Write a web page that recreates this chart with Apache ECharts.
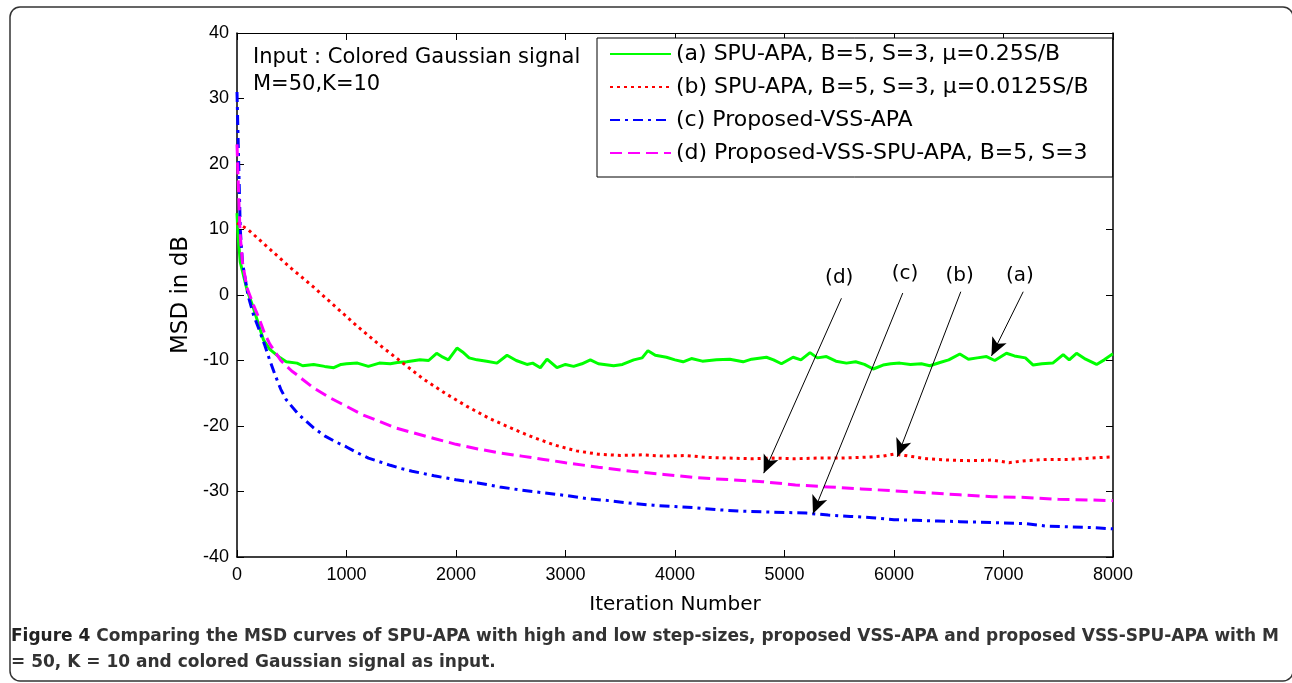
<!DOCTYPE html>
<html>
<head>
<meta charset="utf-8">
<script src="https://cdn.jsdelivr.net/npm/echarts@6/dist/echarts.min.js"></script>
<style>
  html, body { margin: 0; padding: 0; background: #fff; }
  #chart { width: 1292px; height: 683px; }
</style>
</head>
<body>
<div id="chart"></div>
<script>
// (a) SPU-APA, mu = 0.25S/B
const aIter = [0, 10, 30, 91, 150, 243, 300, 395, 450, 548, 600, 700, 800, 884, 950, 1000, 1100, 1200, 1300, 1400, 1465, 1550, 1671, 1750, 1823, 1880, 1930, 2009, 2060, 2120, 2192, 2280, 2374, 2466, 2550, 2648, 2700, 2770, 2831, 2922, 3000, 3074, 3150, 3227, 3300, 3440, 3520, 3623, 3700, 3753, 3820, 3922, 4000, 4074, 4150, 4250, 4378, 4500, 4622, 4700, 4835, 4900, 4972, 5078, 5150, 5233, 5300, 5383, 5470, 5566, 5650, 5730, 5810, 5900, 5970, 6053, 6150, 6250, 6327, 6420, 6500, 6601, 6680, 6760, 6845, 6920, 7027, 7100, 7200, 7271, 7350, 7450, 7545, 7600, 7667, 7750, 7850, 7920, 7987, 8000];
const aMsd = [12.5, 9, 5, 0.8, -2, -6.9, -8.3, -9.6, -10.2, -10.4, -10.8, -10.6, -10.9, -11.1, -10.6, -10.5, -10.4, -10.9, -10.4, -10.5, -10.3, -10.2, -9.9, -10.0, -8.9, -9.5, -9.9, -8.1, -8.7, -9.6, -9.9, -10.1, -10.4, -9.2, -10.0, -10.6, -10.4, -11.1, -9.8, -11.1, -10.6, -10.9, -10.5, -9.9, -10.5, -10.8, -10.6, -9.9, -9.6, -8.5, -9.2, -9.5, -9.9, -10.2, -9.7, -10.1, -9.9, -9.8, -10.2, -9.8, -9.5, -9.9, -10.5, -9.5, -9.9, -8.8, -9.6, -9.4, -10.1, -10.4, -10.2, -10.6, -11.3, -10.7, -10.5, -10.4, -10.6, -10.5, -10.8, -10.3, -9.9, -9.0, -9.8, -9.6, -9.4, -10.0, -8.9, -9.3, -9.6, -10.7, -10.5, -10.4, -9.1, -9.9, -8.9, -9.8, -10.6, -9.9, -9.1, -9.0];

// (b) SPU-APA, mu = 0.0125S/B
const bIter = [0, 100, 300, 500, 700, 900, 1100, 1300, 1500, 1700, 1900, 2100, 2300, 2500, 2700, 2900, 3100, 3300, 3500, 3700, 3900, 4100, 4300, 4500, 4700, 4900, 5100, 5300, 5500, 5700, 5900, 6000, 6100, 6300, 6500, 6700, 6900, 7050, 7200, 7400, 7600, 7800, 8000];
const bMsd = [11, 10, 7, 4, 1.2, -1.8, -4.8, -7.6, -10.2, -12.8, -15, -17, -18.8, -20.3, -21.7, -22.9, -23.8, -24.3, -24.5, -24.4, -24.6, -24.5, -24.8, -24.9, -25.0, -24.9, -25.0, -24.9, -24.9, -24.8, -24.6, -24.3, -24.5, -25.0, -25.2, -25.3, -25.2, -25.6, -25.3, -25.1, -25.1, -24.9, -24.7];

// (c) Proposed-VSS-APA
const cIter = [0, 10, 20, 30, 50, 100, 150, 200, 250, 300, 350, 400, 450, 500, 550, 600, 700, 800, 900, 1000, 1100, 1200, 1400, 1500, 1600, 1800, 2000, 2200, 2400, 2600, 2800, 3000, 3200, 3400, 3600, 3800, 4000, 4200, 4400, 4600, 4800, 5000, 5200, 5400, 5600, 5800, 6000, 6200, 6400, 6600, 6800, 7000, 7200, 7400, 7600, 7800, 8000];
const cMsd = [31, 24, 17, 10, 5, 0, -3, -5.2, -7.5, -10, -12.3, -14.4, -16, -17, -18, -18.8, -20.3, -21.5, -22.4, -23.2, -24.1, -24.9, -26.0, -26.5, -26.9, -27.6, -28.2, -28.7, -29.3, -29.8, -30.2, -30.6, -31.1, -31.4, -31.8, -32.1, -32.3, -32.5, -32.8, -33.0, -33.1, -33.2, -33.3, -33.6, -33.8, -34.0, -34.3, -34.4, -34.5, -34.6, -34.7, -34.8, -34.9, -35.3, -35.4, -35.5, -35.7];

// (d) Proposed-VSS-SPU-APA
const dIter = [0, 10, 20, 30, 50, 91, 150, 200, 250, 300, 400, 500, 550, 600, 700, 850, 1000, 1150, 1300, 1450, 1600, 1800, 2000, 2200, 2400, 2600, 2800, 3000, 3300, 3600, 3900, 4200, 4500, 4800, 5100, 5400, 5700, 6000, 6300, 6600, 6900, 7200, 7500, 7800, 8000];
const dMsd = [23, 18, 13, 9, 5, 1.1, -1.5, -3.5, -5.8, -7.5, -10, -11.6, -12.2, -12.9, -14.2, -15.7, -17, -18.3, -19.3, -20.3, -21, -21.9, -22.8, -23.5, -24.1, -24.6, -25.1, -25.6, -26.3, -26.9, -27.4, -27.9, -28.2, -28.5, -29.0, -29.3, -29.6, -29.9, -30.2, -30.5, -30.8, -30.9, -31.2, -31.3, -31.4];

const seriesNames = [
  '(a) SPU-APA, B=5, S=3, \u03bc=0.25S/B',
  '(b) SPU-APA, B=5, S=3, \u03bc=0.0125S/B',
  '(c) Proposed-VSS-APA',
  '(d) Proposed-VSS-SPU-APA, B=5, S=3'
];

// annotation labels and arrows (data coordinates)
const arrowLabels = ['(a)', '(b)', '(c)', '(d)'];
const arrowText = [[7150, 3.0], [6600, 3.0], [6100, 3.3], [5500, 2.7]];
const arrowFrom = [[7180, 0.5], [6610, 0.5], [6080, 0.3], [5520, -0.5]];
const arrowTo = [[6890, -9.3], [6030, -24.7], [5260, -33.4], [4810, -27.2]];

const zip = (xs, ys) => xs.map((x, i) => [x, ys[i]]);

const chart = echarts.init(document.getElementById('chart'));

const tickFont = { color: '#000', fontSize: 18, fontFamily: 'Liberation Sans, Arial, sans-serif' };
const textFont = 'DejaVu Sans, sans-serif';

function lineSeries(name, data, color, type, width) {
  return {
    name: name,
    type: 'line',
    data: data,
    showSymbol: false,
    symbol: 'none',
    lineStyle: { color: color, width: width, type: type, cap: 'butt' },
    itemStyle: { color: color },
    z: 3
  };
}

const arrowSeries = {
  type: 'line',
  data: [],
  silent: true,
  markLine: {
    silent: true,
    animation: false,
    symbol: ['none', 'arrow'],
    symbolSize: [12, 18],
    lineStyle: { color: '#000', width: 1, type: 'solid' },
    label: { show: false },
    data: arrowFrom.map((f, i) => [
      { coord: f },
      { coord: arrowTo[i] }
    ])
  }
};

const labelSeries = {
  type: 'scatter',
  symbolSize: 0,
  silent: true,
  itemStyle: { opacity: 1 },
  data: arrowText.map((p, i) => ({ value: p, name: arrowLabels[i] })),
  label: {
    show: true,
    position: 'inside',
    formatter: (p) => p.name,
    color: '#000',
    fontSize: 20,
    fontFamily: textFont
  }
};

const option = {
  backgroundColor: '#fff',
  animation: false,
  grid: { left: 237, right: 179, top: 33, bottom: 126 },
  xAxis: [{
    type: 'value',
    min: 0, max: 8000, interval: 1000,
    name: 'Iteration Number',
    nameLocation: 'middle',
    nameGap: 38,
    nameTextStyle: { color: '#000', fontSize: 20, fontFamily: textFont },
    axisLine: { show: true, onZero: false, lineStyle: { color: '#000', width: 1.5 } },
    axisTick: { show: true, inside: true, length: 7, lineStyle: { color: '#000' } },
    axisLabel: Object.assign({ margin: 9, formatter: (v) => String(v) }, tickFont),
    splitLine: { show: false }
  }, {
    type: 'value',
    position: 'top',
    min: 0, max: 8000, interval: 1000,
    axisLine: { show: true, onZero: false, lineStyle: { color: '#000', width: 1 } },
    axisTick: { show: true, inside: true, length: 7, lineStyle: { color: '#000' } },
    axisLabel: { show: false },
    splitLine: { show: false }
  }],
  yAxis: [{
    type: 'value',
    min: -40, max: 40, interval: 10,
    name: 'MSD in dB',
    nameLocation: 'middle',
    nameGap: 44,
    nameRotate: 90,
    nameTextStyle: { color: '#000', fontSize: 23, fontFamily: textFont },
    axisLine: { show: true, onZero: false, lineStyle: { color: '#000', width: 1.5 } },
    axisTick: { show: true, inside: true, length: 7, lineStyle: { color: '#000' } },
    axisLabel: Object.assign({ margin: 8 }, tickFont),
    splitLine: { show: false }
  }, {
    type: 'value',
    position: 'right',
    min: -40, max: 40, interval: 10,
    axisLine: { show: true, onZero: false, lineStyle: { color: '#000', width: 1.5 } },
    axisTick: { show: true, inside: true, length: 7, lineStyle: { color: '#000' } },
    axisLabel: { show: false },
    splitLine: { show: false }
  }],
  legend: {
    orient: 'vertical',
    left: 597,
    top: 38,
    padding: [5, 24, 13, 12],
    itemGap: 11,
    itemWidth: 61,
    itemHeight: 22,
    backgroundColor: '#fff',
    borderColor: '#000',
    borderWidth: 1,
    borderRadius: 0,
    selectedMode: false,
    itemStyle: { opacity: 0 },
    textStyle: { color: '#000', fontSize: 22, fontFamily: textFont },
    data: seriesNames
  },
  graphic: [
    {
      type: 'rect',
      shape: { x: 10, y: 7, width: 1283, height: 674, r: 10 },
      style: { fill: 'none', stroke: '#333', lineWidth: 1.5 },
      silent: true,
      z: -10
    },
    {
      type: 'text',
      left: 253, top: 44,
      style: { text: 'Input : Colored Gaussian signal\nM=50,K=10', fill: '#000', font: '21px DejaVu Sans, sans-serif', lineHeight: 27 }
    },
    {
      type: 'text',
      left: 11, top: 624,
      style: {
        text: '{b|Figure 4} Comparing the MSD curves of SPU-APA with high and low step-sizes, proposed VSS-APA and proposed VSS-SPU-APA with M\n= 50, K = 10 and colored Gaussian signal as input.',
        fill: '#333',
        font: 'bold 17px DejaVu Sans, sans-serif',
        lineHeight: 26,
        rich: {
          b: { fontWeight: 'bold', fill: '#222', fontSize: 17, fontFamily: 'DejaVu Sans, sans-serif' }
        }
      }
    }
  ],
  series: [
    lineSeries(seriesNames[0], zip(aIter, aMsd), '#00ff00', 'solid', 3),
    lineSeries(seriesNames[1], zip(bIter, bMsd), '#ff0000', [3, 4], 3),
    lineSeries(seriesNames[2], zip(cIter, cMsd), '#0000ff', [10, 5, 3, 5], 3),
    lineSeries(seriesNames[3], zip(dIter, dMsd), '#ff00ff', [12, 6], 3),
    arrowSeries,
    labelSeries
  ]
};

chart.setOption(option);
</script>
</body>
</html>
